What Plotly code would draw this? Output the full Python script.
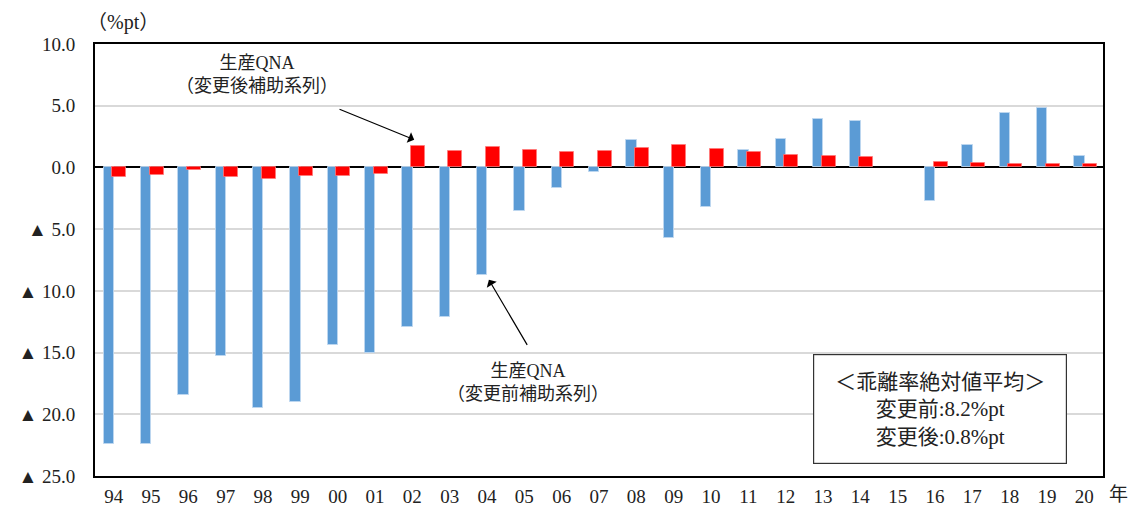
import plotly.graph_objects as go

# Fiscal years (last two digits)
years = ["94", "95", "96", "97", "98", "99", "00", "01", "02", "03", "04", "05", "06",
         "07", "08", "09", "10", "11", "12", "13", "14", "15", "16", "17", "18", "19", "20"]

# Divergence (%pt) using the auxiliary series before the change
before = [-22.4, -22.4, -18.4, -15.3, -19.5, -19.0, -14.4, -15.0, -12.9, -12.1, -8.7, -3.5, -1.7,
          -0.4, 2.2, -5.7, -3.2, 1.4, 2.3, 3.9, 3.8, None, -2.7, 1.8, 4.4, 4.8, 0.9]

# Divergence (%pt) using the auxiliary series after the change
after = [-0.8, -0.6, -0.2, -0.8, -0.9, -0.7, -0.7, -0.5, 1.7, 1.3, 1.65, 1.4, 1.25,
         1.3, 1.55, 1.8, 1.5, 1.25, 1.0, 0.9, 0.87, None, 0.44, 0.36, 0.3, 0.27, 0.3]

y_ticks = [10, 5, 0, -5, -10, -15, -20, -25]
y_tick_text = ["10.0", "5.0", "0.0", "▲ 5.0", "▲ 10.0", "▲ 15.0", "▲ 20.0", "▲ 25.0"]

FONT = "Liberation Serif, Noto Sans CJK JP, serif"
xpos = list(range(len(years)))

fig = go.Figure()
fig.add_trace(go.Bar(
    x=xpos, y=before, width=0.28, offset=-0.27,
    marker=dict(color="#5B9BD5", line=dict(color="rgba(190,215,240,0.9)", width=1)),
    name="変更前", showlegend=False,
))
fig.add_trace(go.Bar(
    x=xpos, y=after, width=0.38, offset=-0.04,
    marker=dict(color="#FF0000", line=dict(color="rgba(255,120,120,0.8)", width=1)),
    name="変更後", showlegend=False,
))

fig.update_layout(
    width=1129, height=506,
    margin=dict(l=95, r=26, t=44, b=30),
    barmode="overlay",
    plot_bgcolor="white", paper_bgcolor="white",
    font=dict(family=FONT, size=19, color="#222"),
    xaxis=dict(
        range=[-0.5, len(years) - 0.5], automargin=False,
        tickmode="array", tickvals=xpos, ticktext=years,
        showgrid=False, zeroline=False, ticks="",
        showline=True, linecolor="black", linewidth=2, mirror=True,
        tickfont=dict(size=19), ticklabelstandoff=2,
    ),
    yaxis=dict(
        range=[-25, 10], automargin=False,
        tickmode="array", tickvals=y_ticks, ticktext=y_tick_text,
        showgrid=True, gridcolor="#d9d9d9", gridwidth=1.5,
        zeroline=True, zerolinecolor="black", zerolinewidth=2,
        showline=True, linecolor="black", linewidth=2, mirror=True,
        ticks="", tickfont=dict(size=19), ticklabelstandoff=14,
    ),
    bargap=0,
)

annotations = [
    dict(text="（%pt）", xref="paper", yref="paper", x=-0.01, y=1.0, yshift=8,
         xanchor="left", yanchor="bottom", showarrow=False, font=dict(size=20)),
    dict(text="年", xref="paper", yref="paper", x=1.0, y=0, xshift=4, yshift=-6,
         xanchor="left", yanchor="top", showarrow=False, font=dict(size=19)),
    # label for the series after the change
    dict(text="生産QNA<br>（変更後補助系列）", xref="x", yref="y", x=3.84, y=7.56,
         showarrow=False, font=dict(size=18), align="center"),
    # label for the series before the change
    dict(text="生産QNA<br>（変更前補助系列）", xref="x", yref="y", x=11.1, y=-17.4,
         showarrow=False, font=dict(size=18), align="center"),
    # summary box
    dict(text="＜乖離率絶対値平均＞<br>変更前:8.2%pt<br>変更後:0.8%pt",
         xref="paper", yref="paper", x=0.838, y=0.155,
         xanchor="center", yanchor="middle",
         showarrow=False, font=dict(size=21), align="center",
         width=232, height=88,
         bordercolor="#333", borderwidth=1.2, borderpad=10, bgcolor="white"),
]
fig.update_layout(annotations=annotations)

# arrows from the labels to the bars they describe
fig.add_annotation(x=8.05, y=2.25, ax=6.01, ay=4.76, xref="x", yref="y",
                   axref="x", ayref="y", text="", showarrow=True,
                   arrowhead=1, arrowsize=1.6, arrowwidth=1.2, arrowcolor="black")
fig.add_annotation(x=10.05, y=-9.1, ax=11.1, ay=-14.5, xref="x", yref="y",
                   axref="x", ayref="y", text="", showarrow=True,
                   arrowhead=1, arrowsize=1.6, arrowwidth=1.2, arrowcolor="black")

fig.write_html("out.html")
